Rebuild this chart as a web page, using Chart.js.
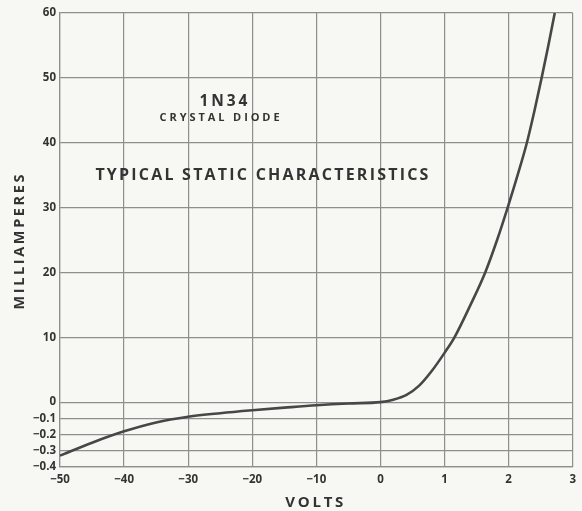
<!DOCTYPE html>
<html>
<head>
<meta charset="utf-8">
<script src="https://cdn.jsdelivr.net/npm/chart.js@4/dist/chart.umd.min.js"></script>
<style>
  body { margin: 0; background: #f7f7f4; }
  canvas { display: block; }
</style>
</head>
<body>
<canvas id="diodeChart" width="582" height="511"></canvas>
<script>
// curve
var volts = [-50, -45, -40, -35, -30, -25, -20, -15, -10, -5, 0,
  0.2, 0.4, 0.6, 0.8, 1.0, 1.155, 1.405, 1.635, 1.82, 1.985, 2.14, 2.285, 2.405, 2.515, 2.62, 2.72];
var milliamps = [-0.33, -0.25, -0.18, -0.125, -0.09, -0.068, -0.05, -0.034, -0.019, -0.008, 0,
  0.37, 1.07, 2.5, 4.8, 7.6, 10, 15, 20, 25, 30, 35, 40, 45, 50, 55, 60];

var voltTicks = [-50, -40, -30, -20, -10, 0, 1, 2, 3];
var mATicks = [-0.4, -0.3, -0.2, -0.1, 0, 10, 20, 30, 40, 50, 60];

// the sheet uses two scales on each axis: 10 V / div reverse, 1 V / div forward,
// 0.1 mA / quarter div below zero, 10 mA / div above
function xu(v) { return v < 0 ? v / 10 : v; }
function yu(i) { return i < 0 ? i / 0.4 : i / 10; }
function fmt(n) { return n < 0 ? '\u2212' + Math.abs(n) : String(n); }

var points = volts.map(function(v, k) {
  return { x: xu(v), y: yu(milliamps[k]) };
});

var ink = '#333333';
var gridColor = '#8e8e8e';

// text lettered on the sheet, positioned in volts / mA
var notes = [
  { text: '1N34', v: -24.5, ma: 46.3, size: 15.5, width: 48 },
  { text: 'CRYSTAL DIODE', v: -25.1, ma: 43.8, size: 11, width: 120 },
  { text: 'TYPICAL STATIC CHARACTERISTICS', v: -18.5, ma: 35.0, size: 16, width: 333 }
];

function spacedText(ctx, text, x, y, size, width, rotate) {
  ctx.save();
  ctx.font = 'bold ' + size + 'px "Open Sans"';
  ctx.fillStyle = ink;
  ctx.textAlign = 'center';
  ctx.textBaseline = 'middle';
  var plain = ctx.measureText(text).width;
  var gap = Math.max(0, (width - plain) / (text.length - 1));
  ctx.letterSpacing = gap + 'px';
  ctx.translate(x, y);
  if (rotate) ctx.rotate(-Math.PI / 2);
  // letterSpacing adds a trailing gap, shift back by half of it
  ctx.fillText(text, gap / 2, 0);
  ctx.restore();
}

var lettering = {
  id: 'lettering',
  beforeDraw: function(chart) {
    var ctx = chart.ctx;
    ctx.save();
    ctx.fillStyle = '#f7f7f4';
    ctx.fillRect(0, 0, chart.width, chart.height);
    ctx.restore();
  },
  afterDraw: function(chart) {
    var ctx = chart.ctx;
    var xs = chart.scales.x, ys = chart.scales.y;
    notes.forEach(function(n) {
      spacedText(ctx, n.text, xs.getPixelForValue(xu(n.v)), ys.getPixelForValue(yu(n.ma)), n.size, n.width, false);
    });
    var area = chart.chartArea;
    spacedText(ctx, 'VOLTS', (area.left + area.right) / 2 - 2, 503, 15, 58, false);
    spacedText(ctx, 'MILLIAMPERES', 20, (area.top + area.bottom) / 2 + 2, 14.5, 135, true);
  }
};

new Chart(document.getElementById('diodeChart'), {
  type: 'line',
  data: {
    datasets: [{
      data: points,
      borderColor: '#474747',
      borderWidth: 2.6,
      pointRadius: 0,
      cubicInterpolationMode: 'monotone',
      fill: false
    }]
  },
  options: {
    responsive: false,
    animation: false,
    devicePixelRatio: 1,
    layout: { padding: { top: 13, right: 5, left: 0, bottom: 0 } },
    plugins: {
      legend: { display: false },
      tooltip: { enabled: false }
    },
    scales: {
      x: {
        type: 'linear',
        min: -5,
        max: 3,
        afterBuildTicks: function(scale) {
          scale.ticks = voltTicks.map(function(v) { return { value: xu(v) }; });
        },
        afterFit: function(scale) { scale.height = 44; },
        ticks: {
          padding: 6,
          color: ink,
          font: { family: 'Open Sans', size: 11.5, weight: 'bold' },
          maxRotation: 0,
          callback: function(value, index) { return fmt(voltTicks[index]); }
        },
        grid: { color: gridColor, lineWidth: 1.2, drawTicks: false },
        border: { color: gridColor, width: 1.2 }
      },
      y: {
        type: 'linear',
        min: -1,
        max: 6,
        afterBuildTicks: function(scale) {
          scale.ticks = mATicks.map(function(i) { return { value: yu(i) }; });
        },
        afterFit: function(scale) { scale.width = 60; },
        ticks: {
          padding: 4,
          color: ink,
          font: { family: 'Open Sans', size: 11.5, weight: 'bold' },
          callback: function(value, index) { return fmt(mATicks[index]); }
        },
        grid: { color: gridColor, lineWidth: 1.2, drawTicks: false },
        border: { color: gridColor, width: 1.2 }
      }
    }
  },
  plugins: [lettering]
});
</script>
</body>
</html>
